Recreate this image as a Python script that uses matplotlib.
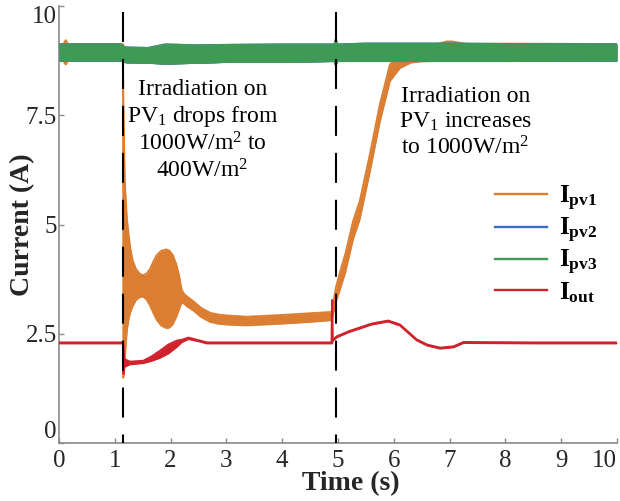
import matplotlib
matplotlib.use("Agg")
import matplotlib.pyplot as plt

plt.rcParams['font.family'] = ['Liberation Serif', 'DejaVu Serif']
plt.rcParams['mathtext.fontset'] = 'custom'
plt.rcParams['mathtext.rm'] = 'Liberation Serif'
plt.rcParams['mathtext.it'] = 'Liberation Serif:italic'
plt.rcParams['mathtext.bf'] = 'Liberation Serif:bold'
plt.rcParams['lines.scale_dashes'] = False

# ---------------- data ----------------
# Ipv3 (green) ripple envelope
t_pv3 = [0.0, 1.10, 1.20, 1.60, 1.90, 2.50, 3.00, 4.00, 4.93, 4.96, 4.99, 5.50, 7.00, 8.00, 10.0]
pv3_lo = [8.74, 8.74, 8.70, 8.69, 8.67, 8.69, 8.71, 8.71, 8.73, 8.62, 8.73, 8.73, 8.73, 8.73, 8.74]
pv3_hi = [9.13, 9.13, 9.06, 9.05, 9.13, 9.11, 9.12, 9.13, 9.13, 9.27, 9.13, 9.15, 9.15, 9.14, 9.13]

# Ipv2 (blue) lies underneath Ipv3 in the picture
t_pv2 = list(t_pv3)
pv2_lo = list(pv3_lo)
pv2_hi = list(pv3_hi)

# Ipv1 (orange) ripple envelope
t_pv1 = [0.0, 0.08, 0.12, 0.16, 1.147, 1.152, 1.165, 1.18, 1.20, 1.22, 1.25, 1.28, 1.32, 1.38, 1.45,
         1.51, 1.57, 1.63, 1.69, 1.75, 1.83, 1.92, 1.98, 2.04, 2.10, 2.15, 2.20, 2.25, 2.29, 2.41,
         2.55, 2.71, 2.85, 3.00, 3.36, 4.00, 4.50, 4.89,
         4.96, 5.04, 5.13, 5.27, 5.39, 5.57, 5.75, 5.93, 6.11, 6.30, 6.47, 6.70, 6.95, 7.05, 7.30, 8.00, 10.0]
pv1_lo = [8.74, 8.74, 8.66, 8.74, 8.74, 1.49, 1.60, 1.90, 2.30, 2.60, 2.85, 3.00, 3.13, 3.27, 3.34,
          3.35, 3.28, 3.15, 2.98, 2.82, 2.69, 2.63, 2.64, 2.72, 2.88, 3.05, 3.22, 3.18, 3.13, 3.03,
          2.88, 2.77, 2.73, 2.71, 2.69, 2.73, 2.77, 2.81,
          3.22, 3.53, 3.90, 4.66, 5.12, 6.20, 7.35, 8.28, 8.58, 8.70, 8.73, 8.74, 8.76, 8.76, 8.75, 8.74, 8.74]
pv1_hi = [9.13, 9.13, 9.22, 9.13, 9.13, 8.08, 7.00, 6.00, 5.50, 5.10, 4.75, 4.45, 4.18, 3.98, 3.87,
          3.84, 3.88, 3.98, 4.15, 4.30, 4.40, 4.43, 4.40, 4.30, 4.10, 3.85, 3.50, 3.40, 3.36, 3.24,
          3.09, 2.98, 2.94, 2.92, 2.89, 2.93, 2.97, 3.00,
          3.55, 3.93, 4.32, 5.08, 5.54, 6.60, 7.75, 8.66, 8.88, 8.99, 9.04, 9.10, 9.19, 9.19, 9.13, 9.14, 9.13]

# Iout (red) envelope
t_out = [0.0, 1.147, 1.152, 1.17, 1.27, 1.51, 1.66, 1.81, 1.96, 2.11, 2.20, 2.32, 2.50, 2.65, 3.5,
         4.885, 4.895, 4.905, 4.98, 5.20, 5.39, 5.60, 5.90, 6.11, 6.41, 6.60, 6.83, 7.07, 7.25, 8.5, 10.0]
out_lo = [2.28, 2.28, 1.58, 1.74, 1.80, 1.83, 1.88, 1.95, 2.05, 2.20, 2.31, 2.38, 2.33, 2.28, 2.28,
          2.28, 2.28, 2.34, 2.42, 2.54, 2.62, 2.71, 2.78, 2.69, 2.35, 2.23, 2.16, 2.19, 2.29, 2.28, 2.28]
out_hi = [2.30, 2.30, 2.20, 1.92, 1.86, 1.88, 1.98, 2.11, 2.25, 2.34, 2.36, 2.41, 2.35, 2.30, 2.30,
          2.30, 3.27, 2.36, 2.44, 2.56, 2.64, 2.73, 2.80, 2.71, 2.37, 2.25, 2.18, 2.21, 2.31, 2.30, 2.30]

event_times = [1.15, 4.96]
x_ticks = [0, 1, 2, 3, 4, 5, 6, 7, 8, 9, 10]
y_ticks = [0, 2.5, 5, 7.5, 10]
y_ticklabels = ['0', '2.5', '5', '7.5', '10']

labels = [r'$\mathbf{I_{pv1}}$', r'$\mathbf{I_{pv2}}$', r'$\mathbf{I_{pv3}}$', r'$\mathbf{I_{out}}$']
colors = ['#DB7E31', '#3A6CC0', '#3F9A55', '#D0222C']

note1 = "Irradiation on\nPV$_1$ drops from\n1000W/m$^2$ to\n400W/m$^2$"
note2 = "Irradiation on\nPV$_1$ increases\nto 1000W/m$^2$"

# ---------------- figure ----------------
fig = plt.figure(figsize=(6.2, 5.01), dpi=100)
ax = fig.add_axes([59/620, 58/501, 558/620, 437/501])

series = [(t_pv1, pv1_lo, pv1_hi), (t_pv2, pv2_lo, pv2_hi), (t_pv3, pv3_lo, pv3_hi), (t_out, out_lo, out_hi)]
zorders = [3, 4, 5, 3.5]
edge_lw = [1.3, 0.8, 0.8, 1.5]
handles = [None] * 4
for i in range(4):
    t, lo, hi = series[i]
    c = colors[i]
    ax.fill_between(t, lo, hi, color=c, lw=0, zorder=zorders[i])
    ax.plot(t, lo, color=c, lw=edge_lw[i], zorder=zorders[i], solid_joinstyle='round')
    h, = ax.plot(t, hi, color=c, lw=edge_lw[i], zorder=zorders[i], solid_joinstyle='round')
    handles[i] = h

for xe in event_times:
    ax.plot([xe, xe], [9.86, 0], color='black', lw=1.5, linestyle=(0, (21.6, 12.2)), zorder=6)

ax.set_xlim(0, 10)
ax.set_ylim(0, 10)
ax.set_xticks(x_ticks)
ax.set_yticks(y_ticks)
ax.set_yticklabels(y_ticklabels)
for s in ['top', 'right']:
    ax.spines[s].set_visible(False)
for s in ['left', 'bottom']:
    ax.spines[s].set_color('#8a8a8a')
    ax.spines[s].set_linewidth(1.2)
ax.tick_params(direction='in', length=3.5, width=1.0, color='#8a8a8a',
               labelsize=18, labelcolor='#262626')
ax.tick_params(axis='x', pad=5)
ax.tick_params(axis='y', pad=1.5)
# keep the end labels inside the figure and apart, as in the reference
ax.get_yticklabels()[-1].set_va('top')
ax.get_yticklabels()[0].set_va('bottom')
ax.get_xticklabels()[-1].set_ha('right')

ax.set_xlabel('Time (s)', fontsize=20, fontweight='bold', color='#262626', labelpad=0)
ax.xaxis.set_label_coords(0.523, -0.065)
ax.set_ylabel('Current (A)', fontsize=20, fontweight='bold', color='#262626', labelpad=0)
ax.yaxis.set_label_coords(-0.043, 0.5)

ax.text(2.57, 8.33, note1, ha='center', va='top', fontsize=17, linespacing=1.2, zorder=7)
ax.text(7.28, 8.17, note2, ha='center', va='top', fontsize=17, linespacing=1.2, zorder=7)

leg = ax.legend(handles, labels, loc='center left', bbox_to_anchor=(0.781, 0.455),
                frameon=False, fontsize=18, handlelength=2.1, handletextpad=0.45,
                labelspacing=0.12, borderpad=0, borderaxespad=0)
for lh in leg.get_lines():
    lh.set_linewidth(1.7)

fig.savefig('out.png', dpi=100)
